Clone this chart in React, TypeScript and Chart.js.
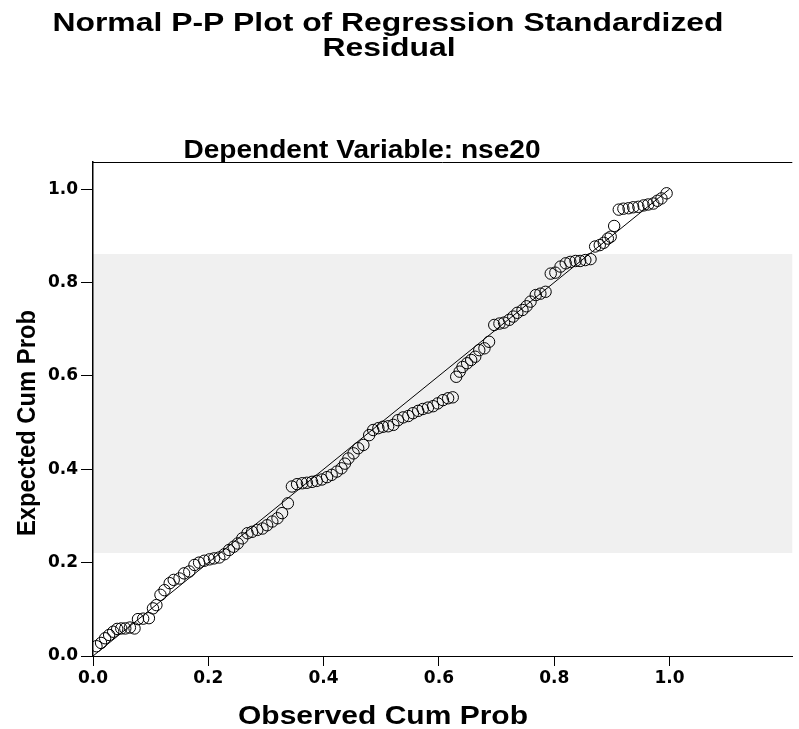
import React, { useEffect, useRef } from "react";
import { Chart, registerables } from "chart.js";

Chart.register(...registerables);

// ---- Text ----
const titleLines = ["Normal P-P Plot of Regression Standardized", "Residual"];
const subtitleText = "Dependent Variable: nse20";
const xAxisTitle = "Observed Cum Prob";
const yAxisTitle = "Expected Cum Prob";

// ---- Ticks ----
const xTickValues = [0, 0.2, 0.4, 0.6, 0.8, 1.0];
const yTickValues = [0, 0.2, 0.4, 0.6, 0.8, 1.0];

// ---- Data: observed vs expected cumulative probability ----
const observedCumProb = [
  0.006, 0.014, 0.021, 0.028, 0.035, 0.042, 0.049, 0.056, 0.064, 0.072,
  0.078, 0.087, 0.097, 0.104, 0.110, 0.117, 0.124, 0.133, 0.140, 0.150,
  0.158, 0.167, 0.176, 0.184, 0.193, 0.202, 0.210, 0.219, 0.228, 0.236,
  0.244, 0.251, 0.259, 0.268, 0.276, 0.285, 0.294, 0.302, 0.311, 0.320,
  0.328, 0.338, 0.345, 0.354,
  0.363, 0.371, 0.380, 0.388, 0.397, 0.406, 0.414, 0.423, 0.431, 0.437,
  0.443, 0.452, 0.460, 0.469, 0.479, 0.486, 0.495, 0.503, 0.512, 0.521,
  0.529, 0.538, 0.547, 0.555, 0.564, 0.572, 0.581, 0.590, 0.598, 0.607,
  0.616, 0.624,
  0.630, 0.636, 0.641, 0.649, 0.656, 0.663, 0.670, 0.679, 0.687, 0.696,
  0.705, 0.713, 0.722, 0.729, 0.736, 0.745, 0.752, 0.759, 0.768, 0.776,
  0.785, 0.794, 0.802, 0.811, 0.820, 0.828, 0.837, 0.845, 0.854, 0.863,
  0.871, 0.879, 0.886, 0.893,
  0.898, 0.904, 0.912, 0.920, 0.929, 0.937, 0.946, 0.955, 0.963, 0.972,
  0.979, 0.986, 0.995,
];
const expectedCumProb = [
  0.021, 0.028, 0.038, 0.045, 0.052, 0.058, 0.059, 0.059, 0.061, 0.059,
  0.079, 0.080, 0.081, 0.102, 0.109, 0.131, 0.141, 0.156, 0.163, 0.166,
  0.177, 0.181, 0.195, 0.200, 0.204, 0.207, 0.209, 0.211, 0.218, 0.227,
  0.234, 0.241, 0.252, 0.263, 0.266, 0.270, 0.273, 0.280, 0.288, 0.295,
  0.306, 0.327, 0.363, 0.368,
  0.370, 0.371, 0.373, 0.375, 0.378, 0.383, 0.388, 0.395, 0.402, 0.412,
  0.423, 0.434, 0.445, 0.452, 0.473, 0.484, 0.488, 0.491, 0.492, 0.495,
  0.505, 0.511, 0.514, 0.520, 0.525, 0.529, 0.532, 0.535, 0.541, 0.548,
  0.552, 0.554,
  0.598, 0.609, 0.619, 0.627, 0.634, 0.641, 0.655, 0.659, 0.673, 0.709,
  0.712, 0.714, 0.720, 0.727, 0.735, 0.741, 0.749, 0.759, 0.773, 0.776,
  0.780, 0.819, 0.821, 0.834, 0.841, 0.844, 0.846, 0.846, 0.848, 0.850,
  0.877, 0.880, 0.885, 0.894,
  0.898, 0.921, 0.956, 0.958, 0.959, 0.961, 0.962, 0.965, 0.967, 0.969,
  0.975, 0.980, 0.991,
];

// reference diagonal (expected = observed)
const diagonalX = [0, 1];
const diagonalY = [0, 1];

// shaded band on the y axis
const bandLow = 0.2206;
const bandHigh = 0.861;

const TICK_FONT = '"DejaVu Sans", "Liberation Sans", Arial, sans-serif';
const TITLE_FONT = '"Liberation Sans", Arial, Helvetica, sans-serif';

type TextSpec = {
  text: string;
  x: number;
  y: number;
  size: number;
  width: number;
  rotate?: boolean;
};

const textSpecs: TextSpec[] = [
  { text: titleLines[0], x: 388, y: 31, size: 25, width: 671 },
  { text: titleLines[1], x: 389, y: 56, size: 25, width: 133 },
  { text: subtitleText, x: 362, y: 158, size: 25, width: 357 },
  { text: xAxisTitle, x: 383, y: 724, size: 26, width: 290 },
  { text: yAxisTitle, x: 35, y: 423, size: 26, width: 226, rotate: true },
];

function drawFitted(ctx: CanvasRenderingContext2D, s: TextSpec) {
  ctx.save();
  ctx.font = `bold ${s.size}px ${TITLE_FONT}`;
  ctx.fillStyle = "#000";
  ctx.textAlign = "center";
  ctx.textBaseline = "alphabetic";
  const w = ctx.measureText(s.text).width;
  ctx.translate(s.x, s.y);
  if (s.rotate) ctx.rotate(-Math.PI / 2);
  ctx.scale(s.width / w, 1);
  ctx.fillText(s.text, 0, 0);
  ctx.restore();
}

const decorPlugin = {
  id: "decor",
  beforeDraw(chart: any) {
    const { ctx, chartArea, scales } = chart;
    const yTop = scales.y.getPixelForValue(bandHigh);
    const yBot = scales.y.getPixelForValue(bandLow);
    ctx.save();
    ctx.fillStyle = "#f0f0f0";
    ctx.fillRect(chartArea.left, yTop, chartArea.right - chartArea.left, yBot - yTop);
    ctx.restore();
  },
  afterDraw(chart: any) {
    const { ctx, chartArea } = chart;
    ctx.save();
    ctx.strokeStyle = "#000";
    ctx.lineWidth = 1;
    ctx.beginPath();
    ctx.moveTo(chartArea.left, chartArea.top + 0.5);
    ctx.lineTo(chartArea.right, chartArea.top + 0.5);
    ctx.stroke();
    ctx.restore();
    textSpecs.forEach((s) => drawFitted(ctx, s));
  },
};

export default function App() {
  const ref = useRef<HTMLCanvasElement>(null);

  useEffect(() => {
    if (!ref.current) return;
    const n = Math.min(observedCumProb.length, expectedCumProb.length);
    const points = [];
    for (let i = 0; i < n; i++) points.push({ x: observedCumProb[i], y: expectedCumProb[i] });
    const diag = diagonalX.map((x, i) => ({ x, y: diagonalY[i] }));
    const tickFont = { family: TICK_FONT, size: 17, weight: "bold" as const };

    const chart = new Chart(ref.current, {
      type: "scatter",
      data: {
        datasets: [
          {
            type: "line",
            data: diag,
            borderColor: "#000",
            borderWidth: 1,
            pointRadius: 0,
            fill: false,
          },
          {
            type: "scatter",
            data: points,
            pointRadius: 5.7,
            pointBorderWidth: 1,
            borderColor: "#000",
            backgroundColor: "rgba(0,0,0,0)",
            pointBackgroundColor: "rgba(0,0,0,0)",
            pointBorderColor: "#000",
          },
        ],
      },
      options: {
        responsive: false,
        devicePixelRatio: 1,
        animation: false,
        layout: { padding: { top: 162, right: 2, left: 0, bottom: 0 } },
        plugins: {
          legend: { display: false },
          tooltip: { enabled: false },
          title: { display: false },
        },
        scales: {
          x: {
            type: "linear",
            position: "bottom",
            min: 0,
            max: 1.213,
            afterBuildTicks: (s: any) => {
              s.ticks = xTickValues.map((v) => ({ value: v }));
            },
            afterFit: (s: any) => {
              s.height = 73;
            },
            grid: {
              drawOnChartArea: false,
              drawTicks: true,
              tickLength: 10,
              tickColor: "#000",
              tickWidth: 1,
            },
            border: { display: true, color: "#000", width: 1 },
            ticks: {
              autoSkip: false,
              maxRotation: 0,
              padding: 2,
              color: "#000",
              font: tickFont,
              callback: (v: any) => Number(v).toFixed(1),
            },
          },
          y: {
            type: "linear",
            position: "left",
            min: 0,
            max: 1.058,
            afterBuildTicks: (s: any) => {
              s.ticks = yTickValues.map((v) => ({ value: v }));
            },
            afterFit: (s: any) => {
              s.width = 93;
            },
            grid: {
              drawOnChartArea: false,
              drawTicks: true,
              tickLength: 12,
              tickColor: "#000",
              tickWidth: 1,
            },
            border: { display: true, color: "#000", width: 1.5 },
            ticks: {
              padding: 3,
              color: "#000",
              font: tickFont,
              callback: (v: any) => Number(v).toFixed(1),
            },
          },
        },
      },
      plugins: [decorPlugin],
    });
    return () => chart.destroy();
  }, []);

  return (
    <div style={{ position: "absolute", left: 0, top: 0, width: 799, height: 729, background: "#fff" }}>
      <canvas ref={ref} width={799} height={729} style={{ display: "block", width: 799, height: 729 }} />
    </div>
  );
}
